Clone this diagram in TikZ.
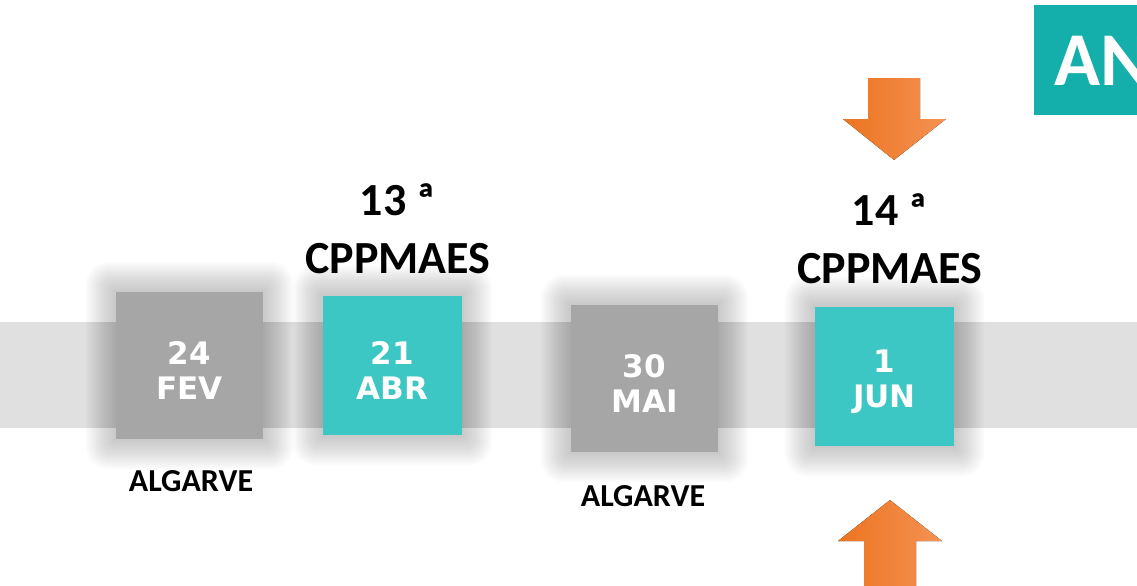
\documentclass[tikz,border=0pt]{standalone}
\usepackage{fontspec}
\setmainfont{Carlito}
\newfontfamily\datefont{DejaVu Sans}
\usetikzlibrary{backgrounds,calc}
\definecolor{boxgray}{HTML}{A6A6A6}
\definecolor{boxteal}{HTML}{3CC6C4}
\definecolor{bandgray}{HTML}{E0E0E0}
\definecolor{tagteal}{HTML}{14AEAB}
\definecolor{orangeL}{HTML}{EC7420}
\definecolor{orangeR}{HTML}{F49254}
\newcommand\boxshadow[1]{%
  \foreach \d in {2,4,...,30}
    \fill[black, opacity=0.015, rounded corners=\d*0.4pt] ($(#1.south west)+(-\d,\d)$) rectangle ($(#1.north east)+(\d,-\d)$);}

\begin{document}
\begin{tikzpicture}[x=0.5pt, y=-0.5pt,
  datebox/.style={minimum width=#1, minimum height=#1, inner sep=0pt},
  datetext/.style={align=center, text=white, yshift=-2.5pt,
    font=\datefont\bfseries\fontsize{15.5}{17.5}\selectfont},
  graydate/.style={datebox=73.5pt, fill=boxgray},
  tealdate/.style={datebox=69.5pt, fill=boxteal},
  edition/.style={align=center, font=\bfseries\fontsize{23}{29}\selectfont},
  place/.style={font=\bfseries\fontsize{16}{18}\selectfont},
  bigarrow/.style={left color=orangeL, right color=orangeR, draw=none}]
\useasboundingbox (0,0) rectangle (1137,585);
% ---------------- date boxes
\node[graydate, label={[datetext]center:24\\FEV}] (fev) at (189.5,365.5) {};
\node[tealdate, label={[datetext]center:21\\ABR}] (abr) at (392.5,365.5) {};
\node[graydate, label={[datetext]center:30\\MAI}] (mai) at (644.5,378.5) {};
\node[tealdate, label={[datetext]center:1\\JUN}] (jun) at (884.5,376.5) {};
% ---------------- band and soft shadows
\begin{pgfonlayer}{background}
  \fill[bandgray] (0,322) rectangle (1137,428);
  \boxshadow{fev} \boxshadow{abr} \boxshadow{mai} \boxshadow{jun}
\end{pgfonlayer}
% ---------------- labels
\node[edition] (cp13) at (398,229) {13 ª\\CPPMAES};
\node[edition] (cp14) at (890,239) {14 ª\\CPPMAES};
\node[place] (alg1) at (191,481) {ALGARVE};
\node[place] (alg2) at (643,496) {ALGARVE};
% ---------------- arrows
\fill[bigarrow] (868,78) -- (920,78) -- (920,119) -- (946,119) -- (894,160)
  -- (843,119) -- (868,119) -- cycle;
\fill[bigarrow] (864,590) -- (864,541) -- (838,541) -- (890,500) -- (942,541)
  -- (916,541) -- (916,590) -- cycle;
% ---------------- tag
\fill[tagteal] (1034,5) rectangle (1137,115);
\node[anchor=base west, inner sep=0pt, text=white, font=\bfseries\fontsize{38}{40}\selectfont]
  (tag) at (1054,85) {AN};
\end{tikzpicture}
\end{document}
